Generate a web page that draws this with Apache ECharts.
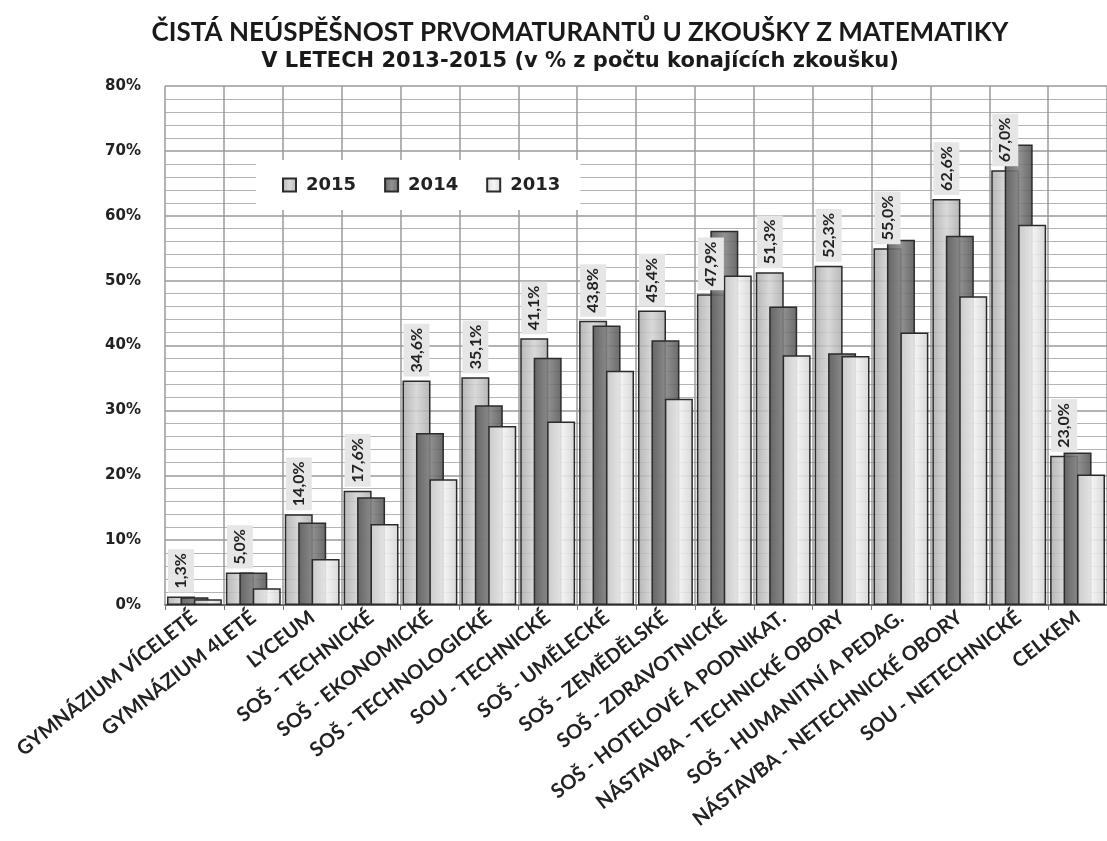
<!DOCTYPE html>
<html>
<head>
<meta charset="utf-8">
<title>Čistá neúspěšnost prvomaturantů</title>
<script src="https://cdn.jsdelivr.net/npm/echarts@6/dist/echarts.min.js"></script>
<style>
  html, body { margin: 0; padding: 0; background: #fff; }
  #chart { width: 1107px; height: 841px; }
</style>
</head>
<body>
<div id="chart"></div>
<script>
var categories = [
	'GYMNÁZIUM VÍCELETÉ', 'GYMNÁZIUM 4LETÉ', 'LYCEUM', 'SOŠ - TECHNICKÉ',
	'SOŠ - EKONOMICKÉ', 'SOŠ - TECHNOLOGICKÉ', 'SOU - TECHNICKÉ', 'SOŠ - UMĚLECKÉ',
	'SOŠ - ZEMĚDĚLSKÉ', 'SOŠ - ZDRAVOTNICKÉ', 'SOŠ - HOTELOVÉ A PODNIKAT.',
	'NÁSTAVBA - TECHNICKÉ OBORY', 'SOŠ - HUMANITNÍ A PEDAG.',
	'NÁSTAVBA - NETECHNICKÉ OBORY', 'SOU - NETECHNICKÉ', 'CELKEM'
];
var data2015 = [1.3, 5.0, 14.0, 17.6, 34.6, 35.1, 41.1, 43.8, 45.4, 47.9, 51.3, 52.3, 55.0, 62.6, 67.0, 23.0];
var data2014 = [1.2, 5.0, 12.7, 16.6, 26.5, 30.8, 38.1, 43.1, 40.8, 57.7, 46.0, 38.8, 56.3, 56.9, 71.0, 23.5];
var data2013 = [0.9, 2.6, 7.1, 12.5, 19.4, 27.6, 28.3, 36.1, 31.8, 50.8, 38.5, 38.4, 42.0, 47.6, 58.6, 20.1];
var yearNames = ['2015', '2014', '2013'];

var FONT = 'Lato, "Noto Sans", sans-serif';
var WIDE = '"DejaVu Sans", Verdana, sans-serif';

function barFill(edge, mid) {
	return {
		type: 'linear', x: 0, y: 0, x2: 1, y2: 0,
		colorStops: [
			{offset: 0, color: edge},
			{offset: 0.5, color: mid},
			{offset: 1, color: edge}
		]
	};
}

function pct(v) {
	return v.toFixed(1).replace('.', ',') + '%';
}

var fills = [
	barFill('rgba(170,170,170,0.85)', 'rgba(210,210,210,0.85)'),
	barFill('rgba(85,85,85,0.88)', 'rgba(130,130,130,0.88)'),
	barFill('rgba(210,210,210,0.88)', 'rgba(244,244,244,0.88)')
];

var seriesData = [data2015, data2014, data2013];
var series = [];
for (var i = 0; i < 3; i++) {
	var s = {
		name: yearNames[i],
		type: 'bar',
		barWidth: 28,
		barGap: '-52%',
		data: seriesData[i],
		itemStyle: {
			color: fills[i],
			borderColor: '#2b2b2b',
			borderWidth: 1.5
		}
	};
	if (i == 0) {
		s.label = {
			show: true,
			position: 'top',
			rotate: 90,
			align: 'left',
			verticalAlign: 'middle',
			distance: 4,
			formatter: function(p) { return pct(p.value); },
			fontFamily: FONT,
			fontWeight: 'bold',
			fontSize: 16,
			color: '#222',
			backgroundColor: '#e6e6e6',
			padding: [5, 4, 5, 4]
		};
	}
	series.push(s);
}

var option = {
	backgroundColor: '#fff',
	animation: false,
	title: {
		text: 'ČISTÁ NEÚSPĚŠNOST PRVOMATURANTŮ U ZKOUŠKY Z MATEMATIKY',
		subtext: 'V LETECH 2013-2015 (v % z počtu konajících zkoušku)',
		left: 575,
		textAlign: 'center',
		top: 15,
		itemGap: 5,
		textStyle: {fontFamily: FONT, fontWeight: 'bold', fontSize: 26, color: '#1a1a1a'},
		subtextStyle: {fontFamily: WIDE, fontWeight: 'bold', fontSize: 21, color: '#1a1a1a'}
	},
	legend: {
		data: yearNames,
		left: 256,
		top: 160,
		icon: 'rect',
		itemWidth: 13,
		itemHeight: 13,
		itemGap: 28,
		padding: [16, 20, 16, 26],
		backgroundColor: '#fff',
		textStyle: {fontFamily: WIDE, fontWeight: 'bold', fontSize: 18, color: '#222', padding: [0, 0, 0, 5]}
	},
	grid: {
		left: 165,
		right: -15,
		top: 86,
		bottom: 236
	},
	xAxis: {
		type: 'category',
		data: categories,
		axisLine: {lineStyle: {color: '#555', width: 1.5}},
		axisTick: {show: true, length: 5, lineStyle: {color: '#777'}},
		splitLine: {show: true, lineStyle: {color: '#9a9a9a', width: 1.5}},
		axisLabel: {
			interval: 0,
			rotate: 38,
			margin: 10,
			fontFamily: FONT,
			fontWeight: 'bold',
			fontSize: 20,
			color: '#222'
		}
	},
	yAxis: {
		type: 'value',
		min: 0,
		max: 80,
		interval: 10,
		axisLine: {show: false},
		axisTick: {show: false},
		axisLabel: {
			formatter: '{value}%',
			margin: 24,
			fontFamily: WIDE,
			fontWeight: 'bold',
			fontSize: 15,
			color: '#222'
		},
		splitLine: {lineStyle: {color: '#9a9a9a', width: 1.5}},
		minorTick: {show: false, splitNumber: 5},
		minorSplitLine: {show: true, lineStyle: {color: '#b4b4b4', width: 1}}
	},
	series: series
};

var myChart = echarts.init(document.getElementById('chart'));
myChart.setOption(option);
</script>
</body>
</html>
